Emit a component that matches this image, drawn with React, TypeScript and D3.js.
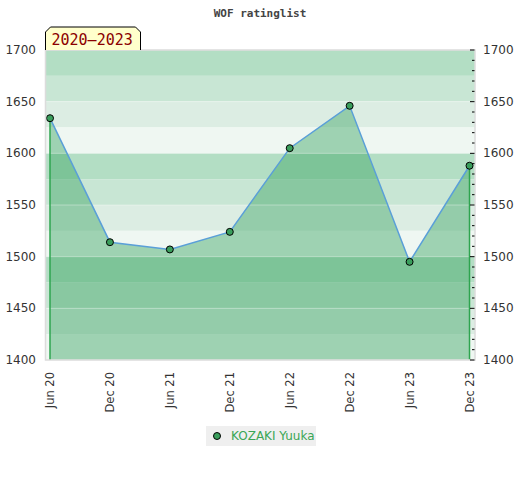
import React from 'react';
import * as d3 from 'd3';

// ratings, one per half year
const periods = ['Jun 20', 'Dec 20', 'Jun 21', 'Dec 21', 'Jun 22', 'Dec 22', 'Jun 23', 'Dec 23'];
const ratings = [1634, 1514, 1507, 1524, 1605, 1646, 1495, 1588];
const yTicks = [1400, 1450, 1500, 1550, 1600, 1650, 1700];
const bandColors = ['#b3dec4', '#c8e6d4', '#dcede3', '#eff7f2'];
const playerName = 'KOZAKI Yuuka';
const periodLabel = '2020\u20132023';

const W = 520;
const H = 480;
const margin = { top: 50, right: 45, bottom: 120, left: 45.5 };

const App = () => {
  const left = margin.left;
  const right = W - margin.right;
  const top = margin.top;
  const bottom = H - margin.bottom;

  const x = d3.scalePoint<string>().domain(periods).range([left + 4.5, right - 5.5]);
  const y = d3.scaleLinear().domain([1400, 1700]).range([bottom, top]);

  const data = periods.map((p, i) => ({ p, v: ratings[i] }));

  const area = d3.area<typeof data[0]>()
    .x(d => x(d.p)!)
    .y0(y(1400))
    .y1(d => y(d.v));
  const line = d3.line<typeof data[0]>()
    .x(d => x(d.p)!)
    .y(d => y(d.v));

  // 25-point bands
  const bands = d3.range(1700, 1400, -25).map((v, i) => ({ v, color: bandColors[i % 4] }));
  const minorTicks = y.ticks(30);

  const first = data[0];
  const last = data[data.length - 1];
  const mono = '"DejaVu Sans Mono", monospace';
  const sans = '"DejaVu Sans", sans-serif';

  return (
    <div style={{ position: 'absolute', left: 0, top: 0, background: '#fff' }}>
      <svg width={W} height={H} xmlns="http://www.w3.org/2000/svg">
        <rect width={W} height={H} fill="#ffffff" />
        <text x={W / 2} y={17} textAnchor="middle" fontFamily={mono} fontWeight="bold" fontSize={11} fill="#444">
          WOF ratinglist
        </text>

        {bands.map(b => (
          <rect key={b.v} x={left} y={y(b.v)} width={right - left} height={y(b.v - 25) - y(b.v)} fill={b.color} />
        ))}

        <path d={area(data)!} fill="#3ca564" fillOpacity={0.45} />

        {yTicks.map(t => (
          <line key={t} x1={left} x2={right} y1={y(t)} y2={y(t)} stroke="#ffffff" strokeOpacity={0.35} />
        ))}

        <line x1={x(first.p)} x2={x(first.p)} y1={y(first.v)} y2={bottom} stroke="#2ea44f" strokeWidth={1.5} />
        <line x1={x(last.p)} x2={x(last.p)} y1={y(last.v)} y2={bottom} stroke="#2ea44f" strokeWidth={1.5} />

        <path d={line(data)!} fill="none" stroke="#5a9fd8" strokeWidth={1.5} />

        {data.map(d => (
          <circle key={d.p} cx={x(d.p)} cy={y(d.v)} r={3.5} fill="#3a9e5c" stroke="#000" strokeWidth={1} />
        ))}

        <rect x={left} y={top} width={right - left} height={bottom - top} fill="none" stroke="#dcdcdc" strokeWidth={1.5} />

        {/* right axis ticks inside the frame */}
        {minorTicks.map(t => (
          <line key={t} x1={right - (t % 50 === 0 ? 5 : 3)} x2={right - 0.5} y1={y(t)} y2={y(t)} stroke="#000" strokeWidth={1} />
        ))}

        {yTicks.map(t => (
          <g key={t} fontFamily={sans} fontSize={12} fill="#333">
            <text x={36} y={y(t) + 4} textAnchor="end">{t}</text>
            <text x={483} y={y(t) + 4}>{t}</text>
          </g>
        ))}

        {periods.map(p => (
          <text
            key={p}
            transform={`translate(${x(p)! + 4},${bottom + 12}) rotate(-90)`}
            textAnchor="end"
            fontFamily={sans}
            fontSize={11.5}
            fill="#333"
          >
            {p}
          </text>
        ))}

        <path
          d={`M${left},${top} L${left},${top - 18} L${left + 5},${top - 23} L${left + 90},${top - 23} L${left + 95},${top - 18} L${left + 95},${top}`}
          fill="#ffffcc"
          stroke="#000"
          strokeWidth={1}
        />
        <text x={left + 6} y={top - 5} fontFamily={mono} fontSize={15} fill="#8b0000">
          {periodLabel}
        </text>

        <rect x={206} y={426} width={110} height={20} fill="#efefef" />
        <circle cx={217} cy={436} r={3.5} fill="#3a9e5c" stroke="#000" strokeWidth={1} />
        <text x={231} y={440} fontFamily={sans} fontSize={12} fill="#3aa655">
          {playerName}
        </text>
      </svg>
    </div>
  );
};

export default App;
